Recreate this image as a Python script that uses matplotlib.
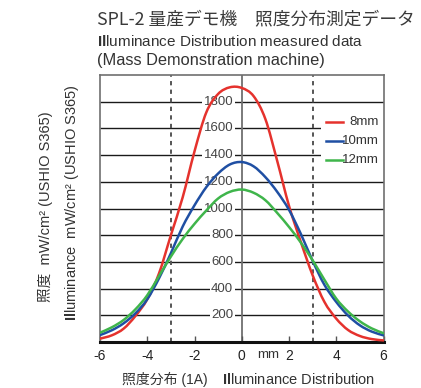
import matplotlib
matplotlib.use("Agg")
import matplotlib.pyplot as plt
from matplotlib.path import Path
from matplotlib.patches import PathPatch, Rectangle

# Illuminance profiles across the stage (mW/cm^2) at three working distances
positions_mm = [-6, -5.5, -5, -4.5, -4, -3.5, -3, -2.5, -2, -1.5, -1, -0.5, 0,
                0.5, 1, 1.5, 2, 2.5, 3, 3.5, 4, 4.5, 5, 5.5, 6]
irr_8mm = [25, 50, 100, 195, 320, 515, 800, 1084, 1428, 1720, 1858, 1908, 1903,
           1842, 1670, 1357, 1020, 750, 500, 300, 175, 90, 45, 22, 12]
irr_10mm = [52, 88, 140, 215, 320, 478, 665, 865, 1024, 1160, 1262, 1330, 1348,
            1316, 1235, 1125, 990, 810, 608, 428, 300, 198, 125, 78, 50]
irr_12mm = [70, 110, 165, 245, 350, 495, 640, 772, 885, 985, 1075, 1125, 1142,
            1118, 1062, 967, 862, 745, 612, 466, 325, 228, 155, 102, 66]
series_labels = ["8mm", "10mm", "12mm"]
series_colors = ["#e5322d", "#1f4fa3", "#3fb54b"]

y_grid_values = [200, 400, 600, 800, 1000, 1200, 1400, 1600, 1800]
x_tick_values = [-6, -4, -2, 0, 2, 4, 6]
x_tick_labels = ["-6", "-4", "-2", "0", "2", "4", "6"]
marker_lines_mm = [-3, 3]

plt.rcParams["mathtext.fontset"] = "custom"
plt.rcParams["mathtext.rm"] = "Liberation Sans"
plt.rcParams["mathtext.bf"] = "Liberation Sans:bold"
plt.rcParams["font.family"] = ["Liberation Sans", "Noto Sans CJK JP"]

W, H = 421, 388
fig = plt.figure(figsize=(W / 100, H / 100), dpi=100)
ax = fig.add_axes([100 / W, 1 - 342 / H, (383.5 - 100) / W, (342 - 75) / H])
ax.set_xlim(-6, 6)
ax.set_ylim(0, 2000)


def smooth_path(xs, ys):
    """Catmull-Rom curve through the points, expressed as cubic Bezier segments."""
    pts = list(zip(xs, ys))
    verts = [pts[0]]
    codes = [Path.MOVETO]
    n = len(pts)
    for i in range(n - 1):
        p0 = pts[max(i - 1, 0)]
        p1 = pts[i]
        p2 = pts[i + 1]
        p3 = pts[min(i + 2, n - 1)]
        c1 = (p1[0] + (p2[0] - p0[0]) / 6, p1[1] + (p2[1] - p0[1]) / 6)
        c2 = (p2[0] - (p3[0] - p1[0]) / 6, p2[1] - (p3[1] - p1[1]) / 6)
        verts += [c1, c2, p2]
        codes += [Path.CURVE4] * 3
    return Path(verts, codes)


# frame
for side in ("top", "left", "right"):
    ax.spines[side].set_color("#6f6f6f")
    ax.spines[side].set_linewidth(1.2)
ax.spines["bottom"].set_color("#111111")
ax.spines["bottom"].set_linewidth(2.2)

# horizontal grid, centre line and dashed markers
ax.hlines(y_grid_values, -6, 6, color="#1a1a1a", lw=1.0, zorder=1)
ax.axvline(0, color="#6f6f6f", lw=1.3, zorder=1)
for xm in marker_lines_mm:
    ax.axvline(xm, color="#555555", lw=1.4, ls=(0, (2.2, 2.2)), zorder=1)

# value labels along the centre line
for v in y_grid_values:
    ax.text(-0.36, v, str(v), ha="right", va="center", fontsize=9.5,
            color="#444444", zorder=2,
            bbox=dict(fc="white", ec="none", pad=1.0))

# profiles
for ys, col in zip([irr_8mm, irr_10mm, irr_12mm], series_colors):
    ax.add_patch(PathPatch(smooth_path(positions_mm, ys), fill=False,
                           ec=col, lw=1.8, zorder=3, capstyle="round"))

# legend
ax.add_patch(Rectangle((0.78, 0.635), 0.22, 0.25, transform=ax.transAxes,
                       fc="white", ec="none", zorder=1.5))
for i, (lab, col) in enumerate(zip(series_labels, series_colors)):
    yy = 0.824 - i * 0.071
    ax.plot([0.797, 0.857], [yy, yy], transform=ax.transAxes, color=col,
            lw=1.8, zorder=4)
    ax.text(0.984, yy, lab, transform=ax.transAxes, ha="right", va="center",
            fontsize=9.5, color="#333333", zorder=4)

ax.set_yticks([])
ax.set_xticks(x_tick_values, x_tick_labels)
ax.tick_params(axis="x", direction="in", length=4, width=1, color="#555555",
               labelsize=10, pad=5, labelcolor="#222222")

# titles
fig.text(97 / W, 1 - 19 / H, "SPL-2 量産デモ機　照度分布測定データ",
         fontsize=12.8, color="#3a3a3a", va="center", ha="left",
         family=["Noto Sans CJK JP"])
fig.text(97 / W, 1 - 42 / H, r"$\mathbf{Il}$luminance Distribution measured data",
         fontsize=11, color="#333333", va="center", ha="left")
fig.text(97 / W, 1 - 61 / H, "(Mass Demonstration machine)",
         fontsize=11.8, color="#333333", va="center", ha="left")

# axis titles
fig.text(45 / W, 1 - 207 / H, "照度  mW/cm² (USHIO S365)", rotation=90,
         fontsize=10.5, color="#333333", va="center", ha="center")
fig.text(72 / W, 1 - 203 / H, r"$\mathbf{Il}$luminance  mW/cm² (USHIO S365)",
         rotation=90, fontsize=10.5, color="#333333", va="center", ha="center")
fig.text(268 / W, 1 - 355 / H, "mm", fontsize=9.5, color="#333333",
         va="center", ha="center")
fig.text(122 / W, 1 - 379 / H, "照度分布 (1A)", fontsize=10,
         color="#333333", va="center", ha="left")
fig.text(222 / W, 1 - 379 / H, r"$\mathbf{Il}$luminance Distribution",
         fontsize=10.5, color="#333333", va="center", ha="left")

fig.savefig("out.png", dpi=100)
